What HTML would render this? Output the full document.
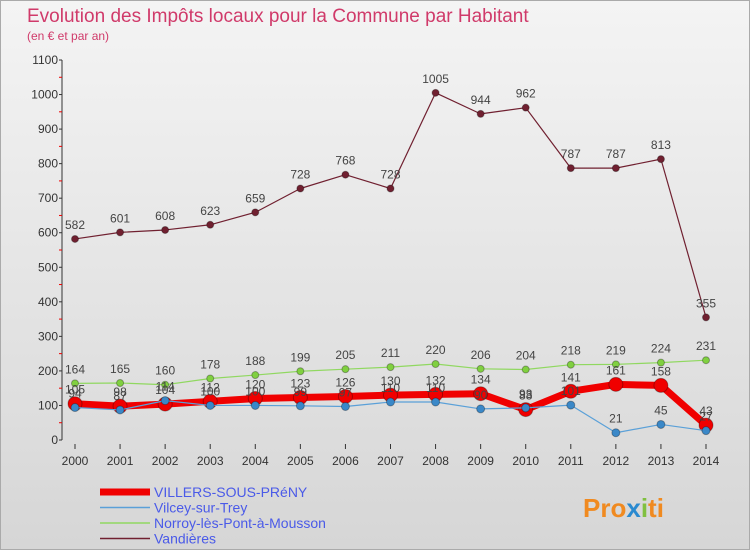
<!DOCTYPE html>
<html><head><meta charset="utf-8"><style>
body{margin:0;width:750px;height:550px;overflow:hidden;font-family:"Liberation Sans",sans-serif}
</style></head><body>
<svg id="c" width="750" height="550" viewBox="0 0 750 550">
<defs>
<linearGradient id="bg" x1="0" y1="0" x2="0" y2="1"><stop offset="0" stop-color="#f4f4f4"/><stop offset="1" stop-color="#d6d6d6"/></linearGradient>
</defs>
<rect x="0.5" y="0.5" width="749" height="549" fill="url(#bg)" stroke="#aaa"/>
<text x="27" y="22" font-size="19" fill="#d03a6a">Evolution des Impôts locaux pour la Commune par Habitant</text>
<text x="27" y="40" font-size="12" fill="#d03a6a">(en € et par an)</text>
<g id="axes"></g>
<g id="series"></g>
<g id="legend"></g>
<text x="583" y="517" font-size="26" font-weight="bold" fill="#f08a20">Pro<tspan fill="#2a8ad0">x</tspan><tspan fill="#80c040">i</tspan><tspan fill="#f08a20">ti</tspan></text>
</svg>
<script>
const years=[2000,2001,2002,2003,2004,2005,2006,2007,2008,2009,2010,2011,2012,2013,2014];
const yTicks=[0,100,200,300,400,500,600,700,800,900,1000,1100];
const villers=[105,98,104,112,120,123,126,130,132,134,88,141,161,158,43];
const vilcey=[94,87,114,100,100,99,97,110,110,90,93,101,21,45,27];
const norroy=[164,165,160,178,188,199,205,211,220,206,204,218,219,224,231];
const vandieres=[582,601,608,623,659,728,768,728,1005,944,962,787,787,813,355];
const names=["VILLERS-SOUS-PRéNY","Vilcey-sur-Trey","Norroy-lès-Pont-à-Mousson","Vandières"];
const NS="http://www.w3.org/2000/svg";
const X=i=>75+i*(706-75)/(years.length-1);
const Y=v=>440-v*(380/1100);
function mk(t,a,p){const e=document.createElementNS(NS,t);for(const k in a)e.setAttribute(k,a[k]);p.appendChild(e);return e;}
const ax=document.getElementById('axes');
const yl=mk('line',{x1:62,y1:Y(1100),x2:62,y2:440,stroke:'#333'},ax);


yTicks.forEach(v=>{
 const t=mk('text',{x:58,y:Y(v)+4,'font-size':12,'text-anchor':'end',fill:'#333'},ax);t.textContent=v;
 
 
 mk('line',{x1:59,y1:Y(v),x2:62,y2:Y(v),stroke:'#333'},ax);
 if(v<1100)mk('line',{x1:59,y1:Y(v+50),x2:62,y2:Y(v+50),stroke:'#e00'},ax);
});
years.forEach((y,i)=>{
 mk('line',{x1:X(i),y1:444,x2:X(i),y2:449,stroke:'#333'},ax);
 const t=mk('text',{x:X(i),y:465,'font-size':12,'text-anchor':'middle',fill:'#333'},ax);t.textContent=y;
 
 
});
const sg=document.getElementById('series');
function series(d,col,w,r,dot,name){
 const g=mk('g',{},sg);
 
 
 mk('polyline',{points:d.map((v,i)=>X(i)+','+Y(v)).join(' '),fill:'none',stroke:col,'stroke-width':w,'stroke-linejoin':'round'},g);
 d.forEach((v,i)=>{
  const c=mk('circle',{cx:X(i),cy:Y(v),r:r,fill:dot,stroke:'rgba(0,0,0,0.3)'},g);
  
  
  const t=mk('text',{x:X(i),y:Y(v)-10,'font-size':12,'text-anchor':'middle',fill:'#444'},g);t.textContent=v;
  
  
 });
}
series(vandieres,'#702030',1.2,3.5,'#702030','series-vandieres');
series(norroy,'#90d860',1.2,3.5,'#80d040','series-norroy');
series(villers,'#f00000',7,7,'#f00000','series-villers');
series(vilcey,'#5aa0d8',1.2,4,'#3a88c8','series-vilcey');
const lg=document.getElementById('legend');
const lc=['#f00000','#5aa0d8','#90d860','#702030'],lw=[7,1.5,1.5,1.5];
names.forEach((n,i)=>{
 const y=492+i*15.5;
 const g=mk('g',{},lg);
 
 
 mk('line',{x1:100,y1:y,x2:150,y2:y,stroke:lc[i],'stroke-width':lw[i]},g);
 const t=mk('text',{x:154,y:y+5,'font-size':14,fill:'#4a5ae8'},g);t.textContent=n;
});
</script>
</body></html>
